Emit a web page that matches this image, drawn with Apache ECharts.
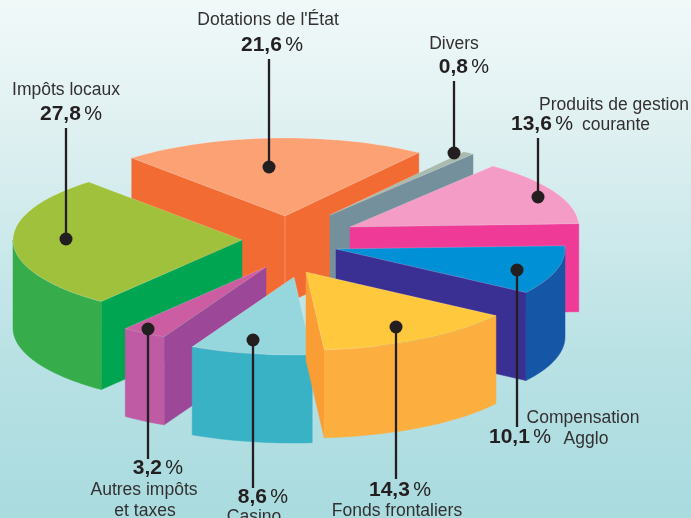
<!DOCTYPE html>
<html><head><meta charset="utf-8">
<style>html,body{margin:0;padding:0;background:#fff}#c{width:691px;height:518px}</style>
<script src="https://cdn.jsdelivr.net/npm/echarts@6/dist/echarts.min.js"></script>
</head><body><div id="c"></div>
<script>
// ---- data (clockwise pie order, starting at the top-left cut) ----
const categories = ["Dotations de l'État","Divers","Produits de gestion courante","Compensation Agglo","Fonds frontaliers","Casino","Autres impôts et taxes","Impôts locaux"];
const shares = [21.6,0.8,13.6,10.1,14.3,8.6,3.2,27.8];
const shareLabels = ["21,6","0,8","13,6","10,1","14,3","8,6","3,2","27,8"];

// ---- styling and layout ----
const topColors  = ['#FBA174','#A9BBAE','#F59CC6','#0090D5','#FFC83D','#96D7DD','#CD5DA2','#9FC13B'];
const cutColors  = ['#F26B33','#75909D','#EF3A98','#3A2F92','#F99D34','#39B2C6','#9C4798','#00A551'];
const rimColors  = ['#F26B33','#75909D','#EF3A98','#1656A6','#FCAF3E','#39B2C6','#BE5BA4','#36AC4A'];
const apexX = [285,330,350,336,306,294,266,242];
const apexY = [216,215,227,249,272,277,267,240];
const drawOrder = [0,1,2,7,3,6,5,4];
const radiusX = 229, radiusY = 78, depth = 88, startDeg = 132;
const leaderX   = [269,454,538,517,396,253,148,66];
const leaderDot = [167,153,197,270,327,340,329,239];
const leaderEnd = [59,81,138,427,479,488,459,128];
const INK = '#231F20';
const FONT = '"Liberation Sans", Arial, sans-serif';

const total = shares.reduce((a,b)=>a+b,0);
const rad = d => d*Math.PI/180;
function sliceAngles(i){
  let a = startDeg;
  for(let k=0;k<i;k++) a -= shares[k]/total*360;
  return [a, a - shares[i]/total*360];
}
function rimPoint(i,deg){
  return [apexX[i]+radiusX*Math.cos(rad(deg)), apexY[i]-radiusY*Math.sin(rad(deg))];
}
function arcPoints(i,from,to){
  const pts=[]; const n=Math.max(2,Math.ceil(Math.abs(from-to)/2));
  for(let k=0;k<=n;k++) pts.push(rimPoint(i,from+(to-from)*k/n));
  return pts;
}
const down = p => [p[0],p[1]+depth];
function wall(pts,fill){
  return {type:'polygon',shape:{points:pts.concat(pts.slice().reverse().map(down))},
          style:{fill:fill,stroke:fill,lineWidth:0.5}};
}
function cutVisible(i,deg,mid){
  const A=[apexX[i],apexY[i]], P=rimPoint(i,deg), M=rimPoint(i,mid);
  const d=[P[0]-A[0],P[1]-A[1]];
  return (d[0]*(M[1]-A[1])-d[1]*(M[0]-A[0]))*d[0]<0;
}
function renderSlice(params,api){
  const i=api.value(0);
  const [a0,a1]=sliceAngles(i), mid=(a0+a1)/2, A=[apexX[i],apexY[i]];
  const kids=[];
  [a0,a1].forEach(deg=>{
    if(cutVisible(i,deg,mid)) kids.push(wall([A,rimPoint(i,deg)],cutColors[i]));
  });
  // outer wall: only the part of the rim on the viewer's side (-180..0 deg, or one turn up)
  [0,360].forEach(turn=>{
    const hi=Math.min(a0-turn,0), lo=Math.max(a1-turn,-180);
    if(hi>lo) kids.push(wall(arcPoints(i,hi,lo),rimColors[i]));
  });
  if(i===0) kids.push({type:'line',shape:{x1:A[0],y1:A[1],x2:A[0],y2:A[1]+depth},style:{stroke:'#F9A07A',lineWidth:0.7}});
  kids.push({type:'polygon',shape:{points:[A].concat(arcPoints(i,a0,a1))},
             style:{fill:topColors[i],stroke:'rgba(255,255,255,0.35)',lineWidth:0.5}});
  return {type:'group',children:kids};
}
function renderLeader(params,api){
  const i=api.value(0);
  return {type:'group',children:[
    {type:'line',shape:{x1:leaderX[i],y1:leaderEnd[i],x2:leaderX[i],y2:leaderDot[i]},style:{stroke:INK,lineWidth:2.3}},
    {type:'circle',shape:{cx:leaderX[i],cy:leaderDot[i],r:6.5},style:{fill:INK}}
  ]};
}
const rich={b:{fontFamily:FONT,fontSize:21,fontWeight:'bold',fill:INK},
            r:{fontFamily:FONT,fontSize:20,fill:INK}};
function name(t,x,y){
  return {type:'text',x:x,y:y,style:{text:t,fontFamily:FONT,fontSize:17.5,fill:'#333031',textAlign:'center',textVerticalAlign:'middle'}};
}
function pct(i,x,y){
  return {type:'text',x:x,y:y,style:{text:'{b|'+shareLabels[i]+'} {r|%}',rich:rich,fill:INK,textAlign:'center',textVerticalAlign:'middle'}};
}
const chart=echarts.init(document.getElementById('c'),null,{renderer:'canvas'});
chart.setOption({
  animation:false,
  backgroundColor:{type:'linear',x:0,y:0,x2:0,y2:1,colorStops:[
    {offset:0,color:'#F1F9F9'},{offset:0.25,color:'#DFF0F1'},{offset:0.7,color:'#B8E1E4'},{offset:1,color:'#A9DBDF'}]},
  series:[
    {type:'custom',coordinateSystem:'none',silent:true,clip:false,z:2,renderItem:renderSlice,
     data:drawOrder.map(i=>({name:categories[i],value:[i,shares[i]]}))},
    {type:'custom',coordinateSystem:'none',silent:true,clip:false,z:3,renderItem:renderLeader,
     data:categories.map((c,i)=>({name:c,value:[i,shares[i]]}))}
  ],
  graphic:{elements:[
    name("Dotations de l'État",268,20), pct(0,272,45),
    name('Divers',454,44), pct(1,464,67),
    name('Produits de gestion',614,105), pct(2,542,124), name('courante',616,125),
    name('Compensation',583,418), pct(3,520,437), name('Agglo',586,439),
    pct(4,400,490), name('Fonds frontaliers',397,511),
    pct(5,263,497), name('Casino',254,517),
    pct(6,158,468), name('Autres impôts',144,490), name('et taxes',145,511),
    name('Impôts locaux',66,90), pct(7,71,114)
  ]}
});
</script></body></html>
